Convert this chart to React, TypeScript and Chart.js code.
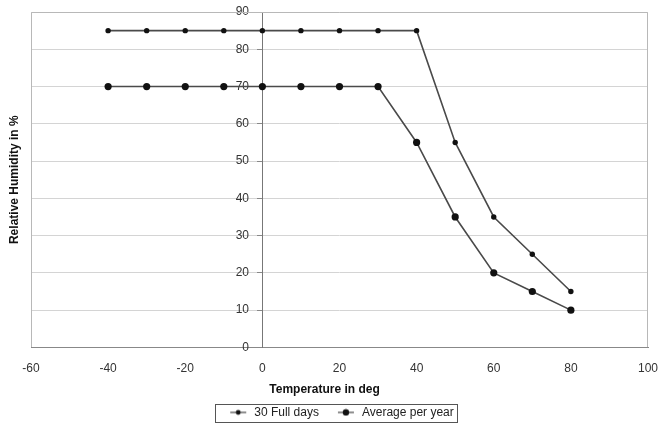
import React, { useEffect, useRef } from "react";
import { Chart, registerables } from "chart.js";

Chart.register(...registerables);

const temperatures = [-40, -30, -20, -10, 0, 10, 20, 30, 40, 50, 60, 70, 80];
const fullDays = [85, 85, 85, 85, 85, 85, 85, 85, 85, 55, 35, 25, 15];
const averagePerYear = [70, 70, 70, 70, 70, 70, 70, 70, 55, 35, 20, 15, 10];
const seriesLabels = ["30 Full days", "Average per year"];
const xTitle = "Temperature in deg";
const yTitle = "Relative Humidity in %";

const FONT = "'Liberation Sans', Arial, sans-serif";

function makeMarker(radius: number): HTMLCanvasElement {
  const c = document.createElement("canvas");
  c.width = 30;
  c.height = 8;
  const ctx = c.getContext("2d")!;
  ctx.strokeStyle = "#444";
  ctx.lineWidth = 1.2;
  ctx.beginPath();
  ctx.moveTo(12, 4);
  ctx.lineTo(28, 4);
  ctx.stroke();
  ctx.fillStyle = "#111";
  ctx.beginPath();
  ctx.arc(20, 4, radius, 0, Math.PI * 2);
  ctx.fill();
  return c;
}

const framePlugin = {
  id: "frame",
  beforeDatasetsDraw(chart: any) {
    const { ctx, chartArea: a } = chart;
    ctx.save();
    ctx.strokeStyle = "#b8b8b8";
    ctx.lineWidth = 1;
    ctx.beginPath();
    ctx.moveTo(Math.round(a.left) + 0.5, Math.round(a.bottom));
    ctx.lineTo(Math.round(a.left) + 0.5, Math.round(a.top) + 0.5);
    ctx.lineTo(Math.round(a.right) - 0.5, Math.round(a.top) + 0.5);
    ctx.lineTo(Math.round(a.right) - 0.5, Math.round(a.bottom));
    ctx.stroke();
    ctx.restore();
  },
  afterDraw(chart: any) {
    const boxes = chart.legend?.legendHitBoxes;
    if (!boxes || !boxes.length) return;
    let minX = Infinity, maxX = -Infinity, minY = Infinity, maxY = -Infinity;
    for (const b of boxes) {
      minX = Math.min(minX, b.left);
      maxX = Math.max(maxX, b.left + b.width);
      minY = Math.min(minY, b.top);
      maxY = Math.max(maxY, b.top + b.height);
    }
    const { ctx } = chart;
    ctx.save();
    ctx.strokeStyle = "#555";
    ctx.lineWidth = 1;
    ctx.strokeRect(
      Math.round(minX - 3) + 0.5,
      Math.round(minY - 2) + 0.5,
      Math.round(maxX - minX + 6),
      Math.round(maxY - minY + 6)
    );
    ctx.restore();
  },
};

export default function App() {
  const ref = useRef<HTMLCanvasElement | null>(null);

  useEffect(() => {
    if (!ref.current) return;
    const markers = [makeMarker(2.4), makeMarker(3.2)];
    const chart = new Chart(ref.current, {
      type: "line",
      data: {
        datasets: [
          {
            label: seriesLabels[0],
            data: temperatures.map((t, i) => ({ x: t, y: fullDays[i] })),
            xAxisID: "x",
            yAxisID: "y",
            borderColor: "#4a4a4a",
            backgroundColor: "#111",
            borderWidth: 1.6,
            pointStyle: "circle",
            pointRadius: 2.7,
            pointBorderWidth: 0,
            pointBackgroundColor: "#111",
          },
          {
            label: seriesLabels[1],
            data: temperatures.map((t, i) => ({ x: t, y: averagePerYear[i] })),
            xAxisID: "x",
            yAxisID: "y",
            borderColor: "#4a4a4a",
            backgroundColor: "#111",
            borderWidth: 1.6,
            pointStyle: "circle",
            pointRadius: 3.6,
            pointBorderWidth: 0,
            pointBackgroundColor: "#111",
          },
        ],
      },
      options: {
        animation: false,
        responsive: true,
        maintainAspectRatio: false,
        layout: { padding: { left: 24, right: 11, top: 12, bottom: 0.6 } },
        plugins: {
          tooltip: { enabled: false },
          legend: {
            position: "bottom",
            labels: {
              font: { size: 12, family: FONT },
              color: "#222",
              padding: 7,
              usePointStyle: true,
              pointStyleWidth: 30,
              generateLabels: (c: any) =>
                c.data.datasets.map((ds: any, i: number) => ({
                  text: ds.label,
                  pointStyle: markers[i],
                  fillStyle: "#111",
                  strokeStyle: "#444",
                  lineWidth: 0,
                  hidden: false,
                  datasetIndex: i,
                  fontColor: "#222",
                })),
            },
          },
        },
        scales: {
          x: {
            type: "linear",
            position: "bottom",
            min: -60,
            max: 100,
            ticks: { stepSize: 20, padding: 14, color: "#333", font: { size: 12, family: FONT } },
            grid: { display: false, drawTicks: false },
            border: { display: true, color: "#888", width: 1 },
            title: {
              display: true,
              text: xTitle + "         ",
              color: "#111",
              font: { size: 12, weight: "bold", family: FONT },
              padding: { top: 0, bottom: 3 },
            },
            afterFit: (s: any) => {
              s.height = 52;
              s.paddingLeft = 0;
              s.paddingRight = 0;
            },
          },
          yt: {
            type: "linear",
            position: "left",
            display: true,
            min: 0,
            max: 1,
            ticks: { display: false },
            grid: { display: false, drawTicks: false },
            border: { display: false },
            title: {
              display: true,
              text: yTitle,
              color: "#111",
              font: { size: 12, weight: "bold", family: FONT },
              padding: { top: -17, bottom: 0 },
            },
            afterFit: (s: any) => {
              s.width = 7;
              s.paddingTop = 0;
              s.paddingBottom = 0;
            },
          },
          y: {
            type: "linear",
            position: { x: 0 } as any,
            min: 0,
            max: 90,
            ticks: {
              stepSize: 10,
              padding: 0,
              color: "#333",
              font: { size: 12, family: FONT },
              callback: (v: any) => String(v) + "    ",
            },
            grid: { color: "#d4d4d4", tickLength: 5, tickColor: "#888" },
            border: { display: true, color: "#777", width: 1 },
            afterFit: (s: any) => {
              s.paddingTop = 0;
              s.paddingBottom = 0;
              s.paddingLeft = 0;
              s.paddingRight = 0;
            },
          },
        },
      },
      plugins: [framePlugin],
    } as any);
    return () => chart.destroy();
  }, []);

  return (
    <div style={{ position: "fixed", left: 0, top: 0, width: 659, height: 429, background: "#fff" }}>
      <canvas ref={ref} />
    </div>
  );
}
